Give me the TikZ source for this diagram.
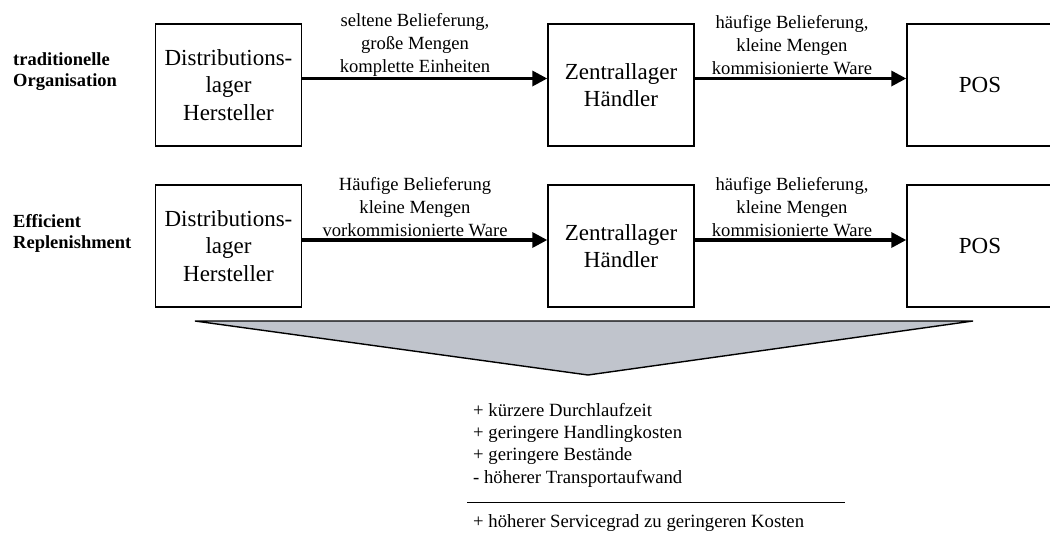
\documentclass[tikz,border=0pt]{standalone}
\usepackage{fontspec}
\setmainfont{Liberation Serif}
\usetikzlibrary{arrows.meta}
\definecolor{funnelgray}{RGB}{192,196,204}
\begin{document}
\begin{tikzpicture}[x=1pt,y=-1pt,
  stage/.style={draw, line width=1.4pt, minimum width=146pt, minimum height=122pt,
    align=center, inner sep=0pt, font=\fontsize{23}{27.5}\selectfont},
  flow/.style={line width=3.3pt, -{Triangle[length=15pt,width=15pt]}},
  flowlabel/.style={align=center, inner sep=0pt, font=\fontsize{18.6}{22.8}\selectfont},
  rowlabel/.style={align=left, anchor=west, inner sep=0pt, font=\bfseries\fontsize{18.5}{21}\selectfont},
  listtext/.style={align=left, inner sep=0pt, font=\fontsize{18.7}{22.3}\selectfont}]
\useasboundingbox (0,0) rectangle (1050,533);
\begin{scope}
\clip (0,0) rectangle (1050,533);

% row labels
\node[rowlabel] (trad) at (13,72) {traditionelle\\Organisation};
\node[rowlabel] (ecr) at (13,233) {Efficient\\Replenishment};

% traditional supply chain
\node[stage] (dh1) at (228.5,85) {Distributions-\\lager\\Hersteller};
\node[stage] (zh1) at (621,85) {Zentrallager\\Händler};
\node[stage] (pos1) at (980,85) {POS};
\draw[flow] (dh1.east |- 0,78.5) -- (zh1.west |- 0,78.5);
\draw[flow] (zh1.east |- 0,78.5) -- (pos1.west |- 0,78.5);
\node[flowlabel] (f1) at (415,45) {seltene Belieferung,\\große Mengen\\komplette Einheiten};
\node[flowlabel] (f2) at (792,45) {häufige Belieferung,\\kleine Mengen\\kommisionierte Ware};

% efficient replenishment
\node[stage] (dh2) at (228.5,246) {Distributions-\\lager\\Hersteller};
\node[stage] (zh2) at (621,246) {Zentrallager\\Händler};
\node[stage] (pos2) at (980,246) {POS};
\draw[flow] (dh2.east |- 0,240) -- (zh2.west |- 0,240);
\draw[flow] (zh2.east |- 0,240) -- (pos2.west |- 0,240);
\node[flowlabel] (f3) at (415,207) {Häufige Belieferung\\kleine Mengen\\vorkommisionierte Ware};
\node[flowlabel] (f4) at (792,207) {häufige Belieferung,\\kleine Mengen\\kommisionierte Ware};

% funnel
\draw[line width=1.4pt, fill=funnelgray, line join=miter] (195,321) -- (973,321) -- (588,375) -- cycle;

% effects
\node[listtext, anchor=north west] (effects) at (473,403)
  {+ kürzere Durchlaufzeit\\+ geringere Handlingkosten\\+ geringere Bestände\\- höherer Transportaufwand};
\coordinate (sumL) at (467,502.5);
\coordinate (sumR) at (845,502.5);
\draw[line width=1.4pt] (sumL) -- (sumR);
\node[listtext, anchor=base west] (result) at (473,527) {+ höherer Servicegrad zu geringeren Kosten};
\end{scope}
\end{tikzpicture}
\end{document}
